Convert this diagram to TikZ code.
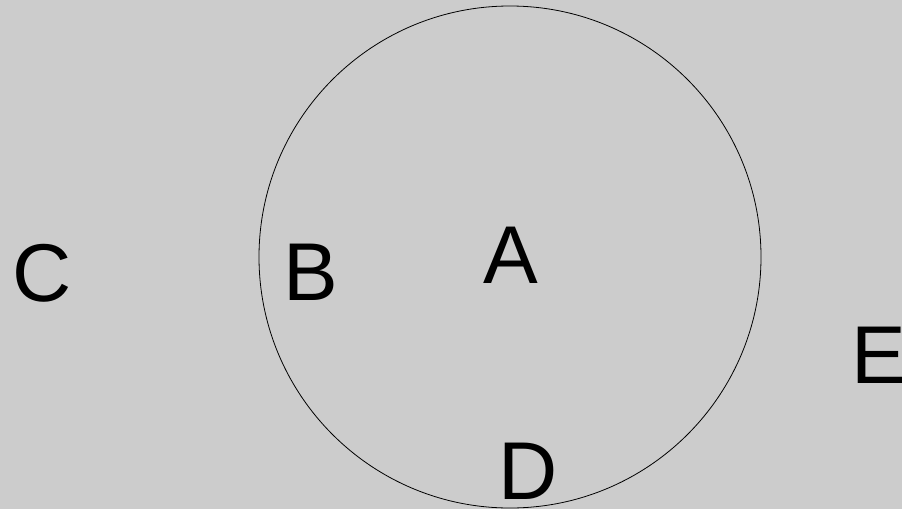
\documentclass[tikz,border=0pt]{standalone}
\usepackage{fontspec}
\setmainfont{Liberation Sans}
\begin{document}
\begin{tikzpicture}[x=1pt,y=-1pt,
  lbl/.style={anchor=base,inner sep=0pt,font=\fontsize{82}{82}\selectfont}]
\fill[fill={rgb,255:red,204;green,204;blue,204}] (0,0) rectangle (902,509);
\useasboundingbox (0,0) rectangle (902,509);
\draw[line width=0.8pt] (510,257) circle[radius=251];
\node[lbl] (A) at (511,283) {A};
\node[lbl] (B) at (311,300) {B};
\node[lbl] (C) at (42,301) {C};
\node[lbl] (D) at (528,499) {D};
\node[lbl] (E) at (879,383) {E};
\end{tikzpicture}
\end{document}
